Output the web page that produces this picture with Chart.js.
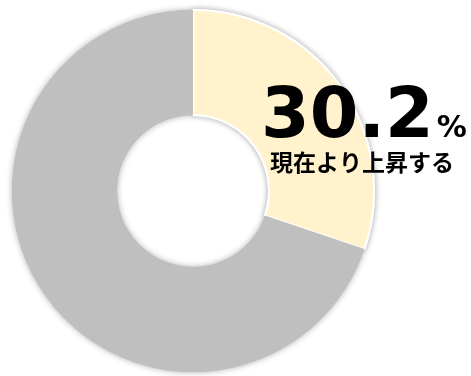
<!DOCTYPE html>
<html>
<head>
<meta charset="utf-8">
<script src="https://cdn.jsdelivr.net/npm/chart.js@4/dist/chart.umd.min.js"></script>
<style>
  html, body { margin: 0; padding: 0; background: #ffffff; }
  #wrap { width: 471px; height: 376px; position: relative; }
</style>
</head>
<body>
<div id="wrap"><canvas id="c" width="471" height="376"></canvas></div>
<script>
// Data
const categories = ['現在より上昇する', 'その他1', 'その他2'];
const values = [30.2, 31.2, 38.6];
const colors = ['#FFF2CC', '#BFBFBF', '#BFBFBF'];
const highlightValue = '30.2';
const highlightUnit = '%';
const highlightLabel = categories[0];

// Draw the arcs once with a soft shadow underneath; the normal pass then covers interior seams.
const shadowPlugin = {
  id: 'shadow',
  beforeDatasetsDraw(chart) {
    const ctx = chart.ctx;
    ctx.save();
    ctx.shadowColor = 'rgba(0,0,0,0.32)';
    ctx.shadowBlur = 6;
    ctx.shadowOffsetX = 0;
    ctx.shadowOffsetY = 0;
    chart.getDatasetMeta(0).data.forEach(a => a.draw(ctx));
    ctx.restore();
  }
};

const labelPlugin = {
  id: 'centerLabel',
  afterDraw(chart) {
    const ctx = chart.ctx;
    ctx.save();
    ctx.fillStyle = '#000000';
    ctx.textBaseline = 'alphabetic';
    ctx.textAlign = 'left';
    ctx.font = 'bold 70px "DejaVu Sans", Verdana, sans-serif';
    ctx.fillText(highlightValue, 261, 137);
    const w = ctx.measureText(highlightValue).width;
    ctx.font = 'bold 30px "DejaVu Sans", Verdana, sans-serif';
    ctx.fillText(highlightUnit, 261 + w + 3, 137);
    ctx.textAlign = 'center';
    ctx.font = 'bold 23px "Noto Sans CJK JP", sans-serif';
    ctx.fillText(highlightLabel, 362, 171);
    ctx.restore();
  }
};

new Chart(document.getElementById('c'), {
  type: 'doughnut',
  data: {
    labels: categories,
    datasets: [{
      data: values,
      backgroundColor: colors,
      borderColor: '#ffffff',
      borderWidth: [2, 0, 0],
      hoverOffset: 0
    }]
  },
  options: {
    responsive: false,
    animation: false,
    cutout: '42%',
    layout: { padding: { top: 9, bottom: 3, left: 11, right: 96 } },
    plugins: {
      legend: { display: false },
      tooltip: { enabled: false }
    }
  },
  plugins: [shadowPlugin, labelPlugin]
});
</script>
</body>
</html>
